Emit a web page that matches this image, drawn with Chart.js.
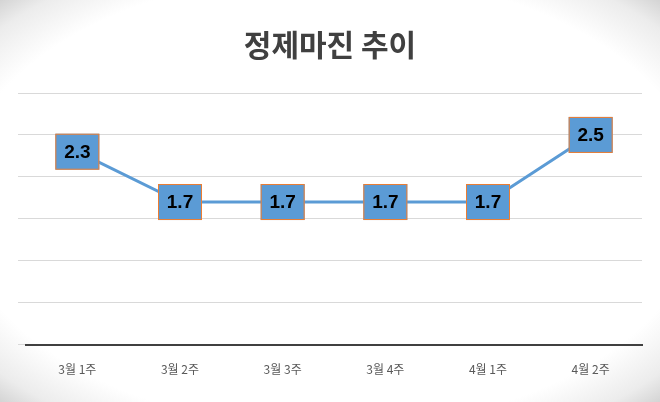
<!DOCTYPE html>
<html><head><meta charset="utf-8">
<script src="https://cdn.jsdelivr.net/npm/chart.js@4"></script>
<style>
html,body{margin:0;padding:0;}
body{width:660px;height:402px;background:radial-gradient(ellipse at center,#ffffff 0%,#ffffff 80%,#ececec 93%,#d4d4d4 100%);}
#w{position:absolute;left:0;top:0;width:660px;height:402px;}
</style></head><body>
<div id="w"><canvas id="c"></canvas></div>
<script>
const categories=['3월 1주','3월 2주','3월 3주','3월 4주','4월 1주','4월 2주'];
const values=[2.3,1.7,1.7,1.7,1.7,2.5];
const labelBoxes={id:'lb',afterDatasetsDraw(ch){
 const ctx=ch.ctx;const meta=ch.getDatasetMeta(0);
 ctx.save();
 meta.data.forEach((p,i)=>{
  const w=44,h=36;
  ctx.fillStyle='#5b9bd5';ctx.strokeStyle='#ed7d31';ctx.lineWidth=1;
  ctx.fillRect(p.x-w/2,p.y-h/2,w,h);ctx.strokeRect(p.x-w/2+0.5,p.y-h/2+0.5,w-1,h-1);
  ctx.fillStyle='#000';ctx.font='bold 19px "Liberation Sans", Arial, sans-serif';
  ctx.textAlign='center';ctx.textBaseline='middle';
  ctx.fillText(values[i].toFixed(1),p.x,p.y+1);
 });
 ctx.restore();}};
new Chart(document.getElementById('c'),{type:'line',
 data:{labels:categories,datasets:[{data:values,borderColor:'#5b9bd5',borderWidth:3,pointRadius:0,tension:0}]},
 options:{responsive:true,maintainAspectRatio:false,animation:false,
  layout:{padding:{left:18,right:18,top:10,bottom:15}},
  plugins:{legend:{display:false},tooltip:{enabled:false},
   title:{display:true,text:'정제마진 추이',color:'#404040',font:{size:30,weight:'bold',family:'"Noto Sans CJK KR", sans-serif'},padding:{top:17,bottom:30}}},
  scales:{
   x:{offset:true,grid:{display:false},border:{color:'#404040',width:2},
      ticks:{color:'#595959',font:{size:12,family:'"Noto Sans CJK KR", sans-serif'},padding:10}},
   y:{min:0,max:3,ticks:{stepSize:0.5,display:false},grid:{color:'#d9d9d9'},border:{display:false}}}}
 ,plugins:[labelBoxes]});
</script></body></html>
